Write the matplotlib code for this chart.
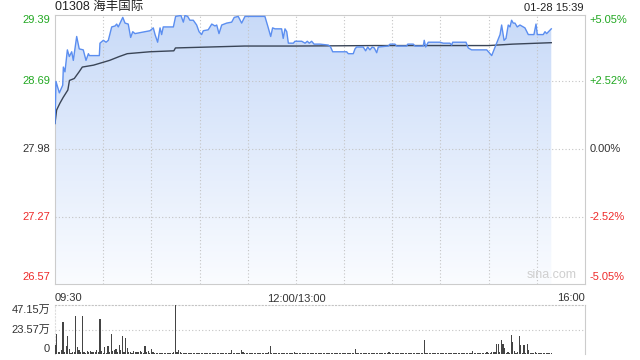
import numpy as np
import matplotlib
matplotlib.use("Agg")
import matplotlib.pyplot as plt
from matplotlib.colors import LinearSegmentedColormap

plt.rcParams['font.family'] = ['Liberation Sans', 'Noto Sans CJK SC', 'DejaVu Sans']

# intraday data: x = trading minutes since 09:30 (12:00 and 13:00 share minute 150)
prev_close = 27.98
price_min = [0, 0.6, 2.7, 4.8, 5.2, 6.2, 7.7, 8.9, 10.4, 11.4, 13.5, 15.1, 17.6, 19.3, 20.8, 21.4,
             27.6, 28.0, 30.1, 31.8, 33.2, 35.3, 37.4, 38.4, 39.4, 42.2, 43.6, 45.6, 47.1, 48.4,
             49.8, 52.9, 59.1, 61.2, 62.3, 63.9, 65.4, 66.4, 67.4, 73.7, 75.1, 78.4, 79.9, 80.9,
             82.6, 84.0, 86.1, 88.2, 89.7, 91.3, 92.3, 95.4, 97.6, 99.6, 100.7, 102.1, 103.8,
             106.9, 110.0, 111.6, 114.1, 116.2, 118.3, 130.7, 132.8, 134.3, 135.5, 137.0, 141.1,
             142.1, 143.2, 144.3, 145.3, 148.4, 149.4, 153.6, 155.7, 157.1, 158.3, 159.8, 161.3,
             165.0, 170.2, 171.6, 172.9, 181.6, 182.6, 185.7, 186.8, 187.8, 191.9, 193.4, 194.7,
             196.1, 197.5, 198.8, 200.3, 201.3, 207.5, 208.6, 211.7, 212.7, 219.0, 219.6, 223.1,
             224.1, 229.3, 229.9, 230.8, 232.4, 239.7, 241.8, 245.9, 247.0, 247.6, 255.9, 257.3,
             259.4, 268.8, 270.4, 271.9, 273.3, 275.0, 277.1, 278.1, 279.6, 280.8, 282.2, 283.3,
             284.3, 285.3, 286.4, 287.8, 289.5, 292.6, 294.7, 298.2, 299.5, 300.3, 304.0, 305.1,
             306.1, 309.0]
price_val = [28.25, 28.69, 28.57, 28.65, 28.84, 28.79, 29.02, 28.95, 29.00, 28.91, 29.16, 29.03,
             29.02, 28.91, 28.98, 28.96, 28.96, 29.09, 29.12, 29.10, 29.12, 29.26, 29.27, 29.29,
             29.26, 29.36, 29.30, 29.29, 29.15, 29.21, 29.19, 29.20, 29.22, 29.25, 29.18, 29.10,
             29.25, 29.18, 29.26, 29.26, 29.37, 29.38, 29.31, 29.38, 29.37, 29.33, 29.33, 29.28,
             29.21, 29.18, 29.22, 29.23, 29.29, 29.27, 29.28, 29.19, 29.28, 29.30, 29.31, 29.36,
             29.37, 29.30, 29.37, 29.37, 29.25, 29.16, 29.25, 29.24, 29.24, 29.14, 29.24, 29.21,
             29.09, 29.09, 29.11, 29.11, 29.09, 29.11, 29.09, 29.11, 29.08, 29.08, 29.07, 29.05,
             29.00, 29.00, 28.98, 28.98, 29.03, 29.05, 29.05, 29.01, 29.05, 29.02, 29.05, 29.04,
             28.99, 29.05, 29.06, 29.08, 29.08, 29.06, 29.06, 29.08, 29.08, 29.06, 29.06, 29.12,
             29.05, 29.10, 29.10, 29.09, 29.09, 29.07, 29.10, 29.10, 29.04, 29.02, 29.02, 28.99,
             28.96, 29.02, 29.09, 29.18, 29.28, 29.12, 29.14, 29.28, 29.26, 29.33, 29.30, 29.30,
             29.26, 29.28, 29.25, 29.18, 29.18, 29.29, 29.18, 29.18, 29.21, 29.19, 29.24]

avg_min = [0, 1, 3, 5, 8, 9, 12, 15, 17, 24, 28, 34, 40, 45, 59, 74, 75, 118, 150, 200, 270, 285, 309]
avg_val = [28.25, 28.39, 28.46, 28.52, 28.60, 28.70, 28.72, 28.79, 28.84, 28.86, 28.88, 28.91,
           28.95, 28.98, 29.00, 29.01, 29.04, 29.06, 29.06, 29.065, 29.065, 29.08, 29.095]

# volume per minute, unit: 万
volume = [8.9, 19.2, 1.5, 2.0, 4.2, 30.9, 2.0, 8.0, 17.5, 5.2,
          1.0, 1.5, 2.0, 36.7, 7.0, 3.5, 1.8, 36.7, 2.0, 1.2,
          2.5, 1.5, 3.0, 1.8, 2.2, 1.5, 3.5, 2.0, 33.8, 2.5,
          1.0, 7.0, 1.2, 8.0, 1.5, 19.4, 2.5, 4.2, 5.2, 1.5,
          8.5, 4.2, 16.9, 2.0, 15.6, 5.5, 1.5, 2.0, 1.2, 2.5,
          1.8, 1.5, 2.2, 3.0, 1.5, 1.2, 8.0, 1.8, 3.0, 1.0,
          5.2, 1.5, 0.8, 1.0, 0.6, 0.9, 0.5, 1.2, 0.7, 0.8,
          0.6, 1.0, 0.9, 0.5, 1.5, 47.15, 1.8, 4.2, 1.8, 1.0,
          0.8, 1.2, 0.6, 1.0, 0.9, 1.3, 0.7, 1.0, 0.8, 1.1,
          0.6, 0.9, 1.2, 0.8, 1.0, 0.7, 1.3, 0.9, 0.6, 1.0,
          1.2, 0.8, 1.0, 0.7, 1.4, 0.9, 0.6, 1.1, 0.8, 1.0,
          4.2, 1.0, 0.8, 1.2, 0.7, 1.0, 4.2, 1.5, 0.9, 1.0,
          0.8, 1.1, 0.7, 1.0, 1.3, 0.8, 0.6, 1.0, 0.9, 1.2,
          0.8, 1.0, 0.7, 1.5, 8.0, 1.2, 0.9, 1.0, 0.7, 0.8,
          1.1, 0.9, 0.6, 1.0, 1.3, 0.8, 1.0, 0.7, 1.2, 1.5,
          0.9, 1.0, 0.7, 0.8, 1.2, 0.6, 1.0, 0.9, 0.7, 1.1,
          0.8, 1.0, 0.6, 0.9, 1.2, 0.7, 1.0, 0.8, 0.6, 1.0,
          0.9, 1.3, 0.7, 1.0, 0.8, 0.6, 1.1, 0.9, 1.0, 0.7,
          0.8, 1.2, 0.6, 1.0, 0.9, 0.7, 1.0, 5.0, 1.2, 0.8,
          1.0, 0.7, 0.9, 1.1, 0.6, 1.0, 0.8, 1.2, 0.7, 0.9,
          1.0, 0.6, 0.8, 1.1, 0.9, 0.7, 1.0, 0.8, 1.5, 0.6,
          0.9, 1.0, 0.7, 1.2, 0.8, 1.0, 0.6, 0.9, 1.1, 0.7,
          1.0, 0.8, 1.3, 0.6, 0.9, 1.0, 0.7, 0.8, 1.2, 1.0,
          13.7, 1.0, 0.8, 0.6, 1.0, 0.9, 0.7, 1.1, 0.8, 1.0,
          0.6, 0.9, 1.2, 0.7, 1.0, 0.8, 0.6, 1.0, 0.9, 0.7,
          1.1, 0.8, 1.0, 0.6, 0.9, 1.3, 0.7, 1.0, 0.8, 1.0,
          3.0, 1.2, 0.8, 1.0, 0.7, 0.9, 1.1, 0.6, 1.0, 1.5,
          1.2, 1.0, 1.8, 1.5, 2.0, 9.9, 9.9, 1.5, 13.7, 9.9,
          5.5, 1.2, 2.0, 1.0, 18.2, 11.3, 2.5, 1.0, 1.5, 17.0,
          8.5, 1.2, 8.5, 1.0, 9.9, 3.5, 1.0, 1.2, 0.8, 1.5,
          1.0, 0.9, 1.2, 0.7, 1.0, 1.3, 0.8, 1.0, 0.9, 1.2]

price_ticks = [29.39, 28.69, 27.98, 27.27, 26.57]
pct_labels = ['+5.05%', '+2.52%', '0.00%', '-2.52%', '-5.05%']
tick_colors = ['#22a822', '#22a822', '#333333', '#ee2a2a', '#ee2a2a']
vol_ticks = [0, 23.57, 47.15]
vol_labels = ['0', '23.57万', '47.15万']
time_labels = ['09:30', '12:00/13:00', '16:00']

ymin, ymax = 26.57, 29.39
grid_c = '#c4c4c4'
border_c = '#cccccc'

fig = plt.figure(figsize=(6.4, 3.6), dpi=100)
ax = fig.add_axes([55 / 640, 76 / 360, 530 / 640, 269.5 / 360])
axv = fig.add_axes([55 / 640, 6 / 360, 530 / 640, 49 / 360])

# price panel
ax.set_xlim(0, 330)
ax.set_ylim(ymin, ymax)
for x in range(30, 330, 30):
    ax.axvline(x, color=grid_c, lw=0.8, ls=(0, (1, 2)), zorder=3)
for y in price_ticks[1:-1]:
    ax.axhline(y, color=grid_c, lw=0.8, ls=(0, (1, 2)), zorder=3)

poly = ax.fill_between(price_min, price_val, ymin, facecolor='none', edgecolor='none')
cmap = LinearSegmentedColormap.from_list('g', ['#fafcff', '#c8daf8'])
grad = np.linspace(0, 1, 256).reshape(-1, 1)
img = ax.imshow(grad, cmap=cmap, aspect='auto', origin='lower',
                extent=[0, 330, ymin, ymax], zorder=2)
img.set_clip_path(poly.get_paths()[0], transform=ax.transData)

ax.plot(price_min, price_val, color='#5b8ef0', lw=1.0, zorder=5)
ax.plot(avg_min, avg_val, color='#3a4557', lw=1.0, zorder=4)

for s in ax.spines.values():
    s.set_color(border_c)
ax.set_xticks([])
ax.set_yticks([])
for i, (v, lab, c) in enumerate(zip(price_ticks, pct_labels, tick_colors)):
    va = 'top' if i == 0 else ('bottom' if i == len(price_ticks) - 1 else 'center')
    off = -0.01 if i == 0 else (0.02 if i == len(price_ticks) - 1 else 0)
    ax.text(-3, v + off, f'{v:.2f}', color=c, fontsize=8, ha='right', va=va, clip_on=False)
    ax.text(333, v + off, lab, color=c, fontsize=8, ha='left', va=va, clip_on=False)

ax.text(0, -0.035, time_labels[0], transform=ax.transAxes, ha='left', va='top', fontsize=8, color='#333333')
ax.text(150, ymin - 0.10, time_labels[1], ha='center', va='top', fontsize=8, color='#333333')
ax.text(1, -0.035, time_labels[2], transform=ax.transAxes, ha='right', va='top', fontsize=8, color='#333333')
ax.text(0.985, 0.012, 'sina.com', transform=ax.transAxes, ha='right', va='bottom',
        fontsize=9, color='#cfcfcf', zorder=6)

fig.text(55 / 640, 1 - 7 / 360, '01308 海丰国际', ha='left', va='center', fontsize=9, color='#222222')
fig.text(584 / 640, 1 - 8 / 360, '01-28 15:39', ha='right', va='center', fontsize=8, color='#222222')

# volume panel
axv.bar(np.arange(len(volume)), volume, width=0.75, color='#444444', zorder=3)
axv.set_xlim(0, 330)
axv.set_ylim(0, 47.15)
axv.axhline(23.57, color=grid_c, lw=0.8, ls=(0, (1, 2)), zorder=1)
axv.spines['top'].set_color(grid_c)
axv.spines['top'].set_linestyle((0, (1, 2)))
axv.spines['left'].set_color('#dddddd')
axv.spines['left'].set_linestyle((0, (1, 2)))
axv.spines['right'].set_color(border_c)
axv.spines['bottom'].set_visible(False)
axv.set_xticks([])
axv.set_yticks([])
for v, lab in zip(vol_ticks, vol_labels):
    va = 'top' if v == vol_ticks[-1] else ('bottom' if v == 0 else 'center')
    axv.text(-3, v, lab, ha='right', va=va, fontsize=8, color='#333333', clip_on=False)

fig.savefig('out.png', dpi=100)
